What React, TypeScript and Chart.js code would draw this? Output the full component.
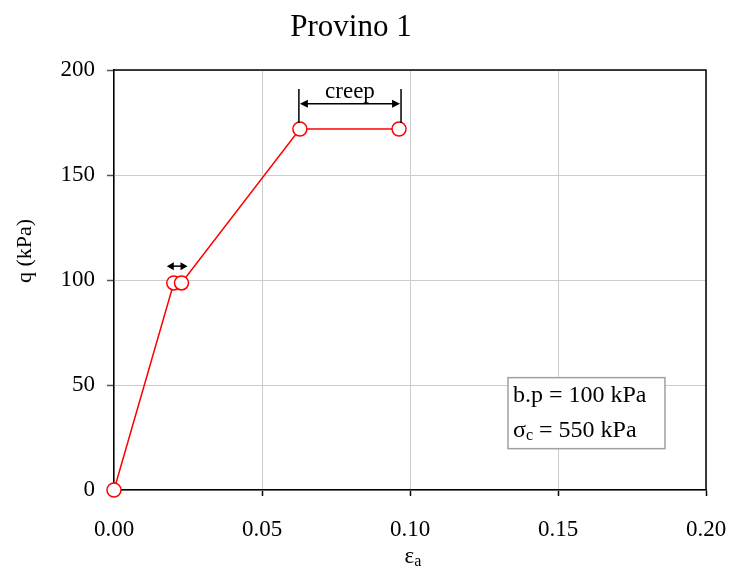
import React, { useEffect, useRef } from "react";
import { Chart, registerables } from "chart.js";

Chart.register(...registerables);

const strainValues = [0.0, 0.0202, 0.0228, 0.0628, 0.0963];
const qValues = [0, 98.6, 98.6, 171.9, 171.9];
const xTicks = [0, 0.05, 0.1, 0.15, 0.2];
const yTicks = [0, 50, 100, 150, 200];
const titleText = "Provino 1";
const yTitle = "q (kPa)";
const legendLines = ["b.p = 100 kPa", "σc = 550 kPa"];

const FONT = "'Liberation Serif', 'Times New Roman', serif";

function arrowHead(ctx: CanvasRenderingContext2D, x: number, y: number, dir: number, len = 8, half = 4) {
  ctx.beginPath();
  ctx.moveTo(x, y);
  ctx.lineTo(x - dir * len, y - half);
  ctx.lineTo(x - dir * len, y + half);
  ctx.closePath();
  ctx.fill();
}

const decorPlugin = {
  id: "decor",
  afterDraw(chart: any) {
    const ctx: CanvasRenderingContext2D = chart.ctx;
    const xs = chart.scales.x;
    const ys = chart.scales.y;
    const ca = chart.chartArea;
    ctx.save();
    ctx.strokeStyle = "#000";
    ctx.lineWidth = 1.5;
    ctx.beginPath();
    ctx.moveTo(ca.left, ca.top);
    ctx.lineTo(ca.right, ca.top);
    ctx.lineTo(ca.right, ca.bottom);
    ctx.stroke();

    ctx.fillStyle = "#000";
    ctx.font = `31px ${FONT}`;
    ctx.textAlign = "center";
    ctx.textBaseline = "middle";
    ctx.fillText(titleText, 351, 28);

    ctx.font = `22px ${FONT}`;
    ctx.save();
    ctx.translate(25, 251);
    ctx.rotate(-Math.PI / 2);
    ctx.fillText(yTitle, 0, 0);
    ctx.restore();

    ctx.textAlign = "left";
    ctx.font = `23px ${FONT}`;
    const ew = ctx.measureText("ε").width;
    ctx.font = `16px ${FONT}`;
    const aw = ctx.measureText("a").width;
    const xStart = (ca.left + ca.right) / 2 + 3 - (ew + aw) / 2;
    ctx.font = `23px ${FONT}`;
    ctx.textBaseline = "alphabetic";
    ctx.fillText("ε", xStart, 563);
    ctx.font = `16px ${FONT}`;
    ctx.fillText("a", xStart + ew, 566);

    ctx.fillStyle = "#000";
    ctx.strokeStyle = "#000";
    ctx.lineWidth = 1.5;
    const ax1 = xs.getPixelForValue(strainValues[1]) - 7;
    const ax2 = xs.getPixelForValue(strainValues[2]) + 6;
    const ay = ys.getPixelForValue(qValues[1] + 8);
    ctx.beginPath();
    ctx.moveTo(ax1 + 4, ay);
    ctx.lineTo(ax2 - 4, ay);
    ctx.stroke();
    arrowHead(ctx, ax1, ay, -1, 7, 4);
    arrowHead(ctx, ax2, ay, 1, 7, 4);

    const cx1 = xs.getPixelForValue(strainValues[3]) - 1;
    const cx2 = xs.getPixelForValue(strainValues[4]) + 2;
    const cyTop = ys.getPixelForValue(qValues[3] + 19);
    const cyBot = ys.getPixelForValue(qValues[3]) - 6;
    const cyArrow = ys.getPixelForValue(qValues[3] + 12);
    ctx.lineWidth = 1.5;
    ctx.beginPath();
    ctx.moveTo(cx1, cyTop);
    ctx.lineTo(cx1, cyBot);
    ctx.moveTo(cx2, cyTop);
    ctx.lineTo(cx2, cyBot);
    ctx.moveTo(cx1 + 6, cyArrow);
    ctx.lineTo(cx2 - 6, cyArrow);
    ctx.stroke();
    arrowHead(ctx, cx1 + 1, cyArrow, -1, 8, 4);
    arrowHead(ctx, cx2 - 1, cyArrow, 1, 8, 4);
    ctx.font = `23px ${FONT}`;
    ctx.textAlign = "center";
    ctx.textBaseline = "alphabetic";
    ctx.save();
    ctx.beginPath();
    ctx.rect(cx1, cyTop - 3, cx2 - cx1, cyArrow - cyTop + 3);
    ctx.clip();
    ctx.fillText("creep", (cx1 + cx2) / 2, cyArrow - 6);
    ctx.restore();

    const bx = xs.getPixelForValue(0.1331);
    const by = ys.getPixelForValue(53.5);
    const bw = 157;
    const bh = 71;
    ctx.fillStyle = "#fff";
    ctx.fillRect(bx, by, bw, bh);
    ctx.strokeStyle = "#a0a0a0";
    ctx.lineWidth = 1.5;
    ctx.strokeRect(bx, by, bw, bh);
    ctx.fillStyle = "#000";
    ctx.textAlign = "left";
    ctx.textBaseline = "alphabetic";
    ctx.font = `24px ${FONT}`;
    ctx.fillText(legendLines[0], bx + 5, by + 24);
    const parts = legendLines[1];
    const sig = parts.slice(0, 1);
    const sub = parts.slice(1, 2);
    const rest = parts.slice(2);
    ctx.fillText(sig, bx + 5, by + 59);
    const sw = ctx.measureText(sig).width;
    ctx.font = `16px ${FONT}`;
    ctx.fillText(sub, bx + 5 + sw, by + 62);
    const subw = ctx.measureText(sub).width;
    ctx.font = `24px ${FONT}`;
    ctx.fillText(rest, bx + 5 + sw + subw, by + 59);
    ctx.restore();
  },
};

export default function App() {
  const ref = useRef<HTMLCanvasElement | null>(null);
  useEffect(() => {
    document.body.style.margin = "0";
    const canvas = ref.current;
    if (!canvas) return;
    const chart = new Chart(canvas, {
      type: "scatter",
      data: {
        datasets: [
          {
            data: strainValues.map((x, i) => ({ x, y: qValues[i] })),
            showLine: true,
            borderColor: "#ff0000",
            borderWidth: 1.5,
            pointRadius: 7,
            pointBorderWidth: 1.5,
            pointBackgroundColor: "#ffffff",
            pointBorderColor: "#ff0000",
            clip: false,
          } as any,
        ],
      },
      options: {
        animation: false,
        responsive: false,
        maintainAspectRatio: false,
        layout: { padding: { left: 0, top: 70, right: 23, bottom: 0 } },
        plugins: { legend: { display: false }, tooltip: { enabled: false }, title: { display: false } },
        scales: {
          x: {
            type: "linear",
            min: 0,
            max: 0.2,
            afterFit: (s: any) => {
              s.height = 78;
              s.paddingLeft = 0;
              s.paddingRight = 0;
            },
            afterBuildTicks: (s: any) => {
              s.ticks = xTicks.map((v) => ({ value: v }));
            },
            ticks: {
              color: "#000",
              font: { family: FONT, size: 23 },
              padding: 20,
              maxRotation: 0,
              callback: (v: any) => Number(v).toFixed(2),
            },
            grid: { color: "#cccccc", lineWidth: 1, tickLength: 6, tickColor: "#000", tickWidth: 1.5 },
            border: { color: "#000", width: 1.5 },
          },
          y: {
            type: "linear",
            min: 0,
            max: 200,
            afterFit: (s: any) => {
              s.width = 114;
              s.paddingTop = 0;
              s.paddingBottom = 0;
            },
            afterBuildTicks: (s: any) => {
              s.ticks = yTicks.map((v) => ({ value: v }));
            },
            ticks: {
              color: "#000",
              font: { family: FONT, size: 23 },
              padding: 12,
              callback: (v: any) => String(v),
            },
            grid: { color: "#cccccc", lineWidth: 1, tickLength: 7, tickColor: "#555", tickWidth: 1.5 },
            border: { color: "#000", width: 1.5 },
          },
        },
      } as any,
      plugins: [decorPlugin],
    });
    return () => chart.destroy();
  }, []);
  return (
    <div style={{ width: 729, height: 568 }}>
      <canvas ref={ref} width={729} height={568} style={{ width: 729, height: 568, display: "block" }} />
    </div>
  );
}
